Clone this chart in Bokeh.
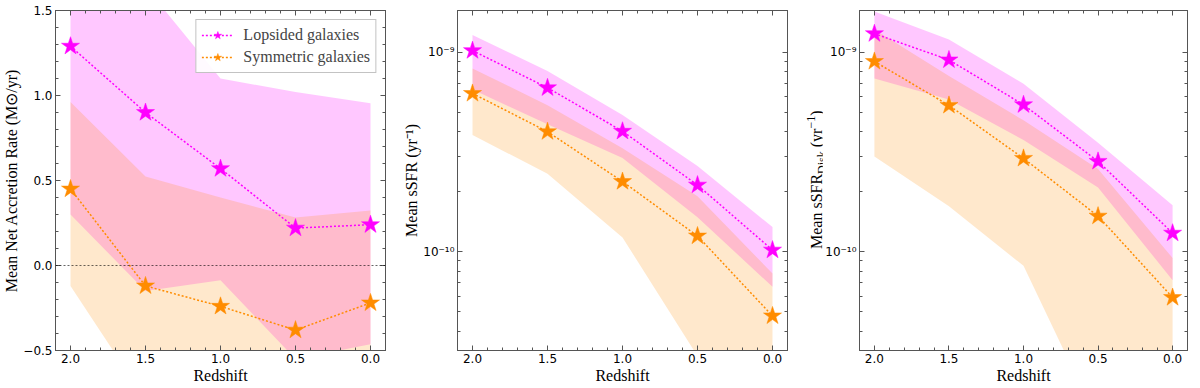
from bokeh.plotting import figure
from bokeh.layouts import row
from bokeh.models import (Range1d, FixedTicker, CustomJSTickFormatter, LinearAxis,
                          LogAxis, Span, Div)
from bokeh.embed import file_html
from bokeh.resources import INLINE

# ---------------- data ----------------
redshift = [2.0, 1.5, 1.0, 0.5, 0.0]

# Panel 1: mean net accretion rate (Msun/yr)
lop_acc_mean = [1.29, 0.90, 0.57, 0.22, 0.24]
lop_acc_hi = [1.90, 1.64, 1.10, 1.02, 0.955]
lop_acc_lo = [0.30, -0.15, -0.087, -0.55, -0.463]
sym_acc_mean = [0.45, -0.12, -0.24, -0.38, -0.22]
sym_acc_hi = [0.962, 0.523, 0.40, 0.282, 0.323]
sym_acc_lo = [-0.12, -0.79, -0.95, -1.0, -0.85]

# Panel 2: mean sSFR (1/yr)
lop_ssfr_mean = [1.02e-9, 6.64e-10, 4.02e-10, 2.16e-10, 1.02e-10]
lop_ssfr_hi = [1.22e-9, 8.05e-10, 4.85e-10, 2.69e-10, 1.33e-10]
lop_ssfr_lo = [6.5e-10, 4.36e-10, 2.95e-10, 1.49e-10, 6.67e-11]
sym_ssfr_mean = [6.22e-10, 4.0e-10, 2.25e-10, 1.2e-10, 4.77e-11]
sym_ssfr_hi = [8.3e-10, 5.43e-10, 3.3e-10, 1.9e-10, 7.78e-11]
sym_ssfr_lo = [3.85e-10, 2.46e-10, 1.18e-10, 3.0e-11, 1.0e-11]

# Panel 3: mean disk sSFR (1/yr)
lop_disk_mean = [1.24e-9, 9.16e-10, 5.46e-10, 2.84e-10, 1.24e-10]
lop_disk_hi = [1.6e-9, 1.16e-9, 6.95e-10, 3.52e-10, 1.71e-10]
lop_disk_lo = [7.4e-10, 5.8e-10, 3.63e-10, 2.1e-10, 7.2e-11]
sym_disk_mean = [9.0e-10, 5.42e-10, 2.94e-10, 1.51e-10, 5.9e-11]
sym_disk_hi = [1.3e-9, 7.6e-10, 4.56e-10, 2.6e-10, 9.3e-11]
sym_disk_lo = [3.0e-10, 1.69e-10, 8.5e-11, 1.4e-11, 5e-12]

x_ticks = [0.0, 0.5, 1.0, 1.5, 2.0]
acc_ticks = [-0.5, 0.0, 0.5, 1.0, 1.5]
log_ticks = [1e-10, 1e-9]
series_labels = ["Lopsided galaxies", "Symmetric galaxies"]

# ---------------- style ----------------
MAG = "#ff00ff"
ORA = "#ff8c00"
SERIF = "Liberation Serif"
SANS = "DejaVu Sans"
AXC = "#555555"
H = 386

x_minor = [round(0.1 * i, 1) for i in range(-1, 22)]
acc_minor = [round(-0.6 + 0.1 * i, 1) for i in range(0, 22)]
log_minor = [m * 10.0 ** e for e in (-12, -11, -10, -9) for m in range(2, 10)]

blank = CustomJSTickFormatter(code="return ''")
xfmt = CustomJSTickFormatter(code="return tick.toFixed(1)")
accfmt = CustomJSTickFormatter(code="return (tick < -1e-9 ? '\\u2212' : '') + Math.abs(tick).toFixed(1)")
logfmt = CustomJSTickFormatter(code="""
const e = Math.round(Math.log10(tick));
const sup = {'-':'\\u207b','0':'\\u2070','1':'\\u00b9','2':'\\u00b2','3':'\\u00b3','4':'\\u2074','5':'\\u2075','6':'\\u2076','7':'\\u2077','8':'\\u2078','9':'\\u2079'};
return '10' + String(e).split('').map(c => sup[c]).join('');
""")


def style_axis(ax, labels=True):
    ax.axis_line_color = AXC
    ax.major_tick_line_color = AXC
    ax.minor_tick_line_color = AXC
    ax.major_tick_in = 5
    ax.major_tick_out = 0
    ax.minor_tick_in = 3
    ax.minor_tick_out = 0
    ax.major_label_text_font = SANS
    ax.major_label_text_font_size = "12px"
    ax.major_label_text_color = "black"
    ax.axis_label_text_font = SERIF
    ax.axis_label_text_font_size = "16px"
    ax.axis_label_text_font_style = "normal"
    ax.axis_label_text_color = "black"
    ax.axis_label_standoff = 0
    ax.major_label_standoff = 3
    if not labels:
        ax.major_label_text_font_size = "0px"
        ax.major_label_standoff = 0


def make_fig(width, bl, br, yrange, log=False):
    p = figure(width=width, height=H, x_range=Range1d(2.1, -0.1), y_range=yrange,
               y_axis_type="log" if log else "linear", output_backend="svg",
               toolbar_location=None, min_border_left=bl, min_border_right=br,
               min_border_top=10, min_border_bottom=32)
    p.grid.visible = False
    p.outline_line_color = AXC
    p.background_fill_color = "white"
    p.border_fill_color = "white"
    xt = FixedTicker(ticks=x_ticks, minor_ticks=x_minor)
    p.xaxis.ticker = xt
    p.xaxis.formatter = xfmt
    p.xaxis.axis_label = "Redshift"
    style_axis(p.xaxis[0])
    p.xaxis.axis_label_standoff = 1
    style_axis(p.yaxis[0])
    top = LinearAxis(ticker=xt, formatter=blank)
    style_axis(top, labels=False)
    p.add_layout(top, "above")
    return p


def add_series(p, lo1, hi1, m1, lo2, hi2, m2, legend=False):
    p.varea(x=redshift, y1=lo1, y2=hi1, fill_color=MAG, fill_alpha=0.22)
    p.varea(x=redshift, y1=lo2, y2=hi2, fill_color=ORA, fill_alpha=0.2)
    for m, c, lab in ((m1, MAG, series_labels[0]), (m2, ORA, series_labels[1])):
        kw = dict(legend_label=lab) if legend else {}
        p.line(redshift, m, line_color=c, line_dash="2 2", line_width=1.5, **kw)
        p.scatter(redshift, m, marker="star", size=19, fill_color=c, line_color=c,
                  line_width=0.5, **kw)


# ---------------- panel 1 ----------------
p1 = make_fig(400, 54, 15, Range1d(-0.5, 1.5))
add_series(p1, lop_acc_lo, lop_acc_hi, lop_acc_mean, sym_acc_lo, sym_acc_hi, sym_acc_mean, legend=True)
p1.add_layout(Span(location=0, dimension="width", line_color="black", line_alpha=0.6,
                   line_dash="2 2", line_width=1))
at = FixedTicker(ticks=acc_ticks, minor_ticks=acc_minor)
p1.yaxis.ticker = at
p1.yaxis.formatter = accfmt
p1.yaxis.axis_label = "Mean Net Accretion Rate (M\u2299/yr)"
r1 = LinearAxis(ticker=at, formatter=blank)
style_axis(r1, labels=False)
p1.add_layout(r1, "right")
lg = p1.legend[0]
lg.location = "top_right"
lg.margin = 9
lg.padding = 5
lg.spacing = 2
lg.border_line_color = "#888888"
lg.border_line_width = 1
lg.background_fill_alpha = 0.9
lg.label_text_font = SERIF
lg.label_text_font_size = "16px"
lg.glyph_width = 32
lg.glyph_height = 20
lg.label_height = 20
lg.label_standoff = 10

# ---------------- panel 2 ----------------
lt = FixedTicker(ticks=log_ticks, minor_ticks=log_minor)
p2 = make_fig(400, 55, 13, Range1d(3.2e-11, 1.62e-9), log=True)
add_series(p2, lop_ssfr_lo, lop_ssfr_hi, lop_ssfr_mean, sym_ssfr_lo, sym_ssfr_hi, sym_ssfr_mean)
p2.yaxis.ticker = lt
p2.yaxis.formatter = logfmt
p2.yaxis.axis_label = "Mean sSFR (yr\u207b\u00b9)"
r2 = LogAxis(ticker=lt, formatter=blank)
style_axis(r2, labels=False)
p2.add_layout(r2, "right")

# ---------------- panel 3 ----------------
p3 = make_fig(373, 35, 8, Range1d(3.2e-11, 1.62e-9), log=True)
add_series(p3, lop_disk_lo, lop_disk_hi, lop_disk_mean, sym_disk_lo, sym_disk_hi, sym_disk_mean)
p3.yaxis.ticker = lt
p3.yaxis.formatter = logfmt
r3 = LogAxis(ticker=lt, formatter=blank)
style_axis(r3, labels=False)
p3.add_layout(r3, "right")

ylab3 = Div(
    text=('<div style="writing-mode: vertical-rl; transform: rotate(180deg); '
          'font-family: \'Liberation Serif\'; font-size: 16px; color: black; '
          'height: 344px; margin-top: 8px; text-align: center; white-space: nowrap; '
          'line-height: 22px;">Mean sSFR<sub style="font-size: 12px;">Disk</sub> '
          '(yr<sup style="font-size: 12px;">\u22121</sup>)</div>'),
    width=22, height=H, margin=0)

layout = row(p1, p2, ylab3, p3)
open("out.html", "w").write(file_html(layout, INLINE))
